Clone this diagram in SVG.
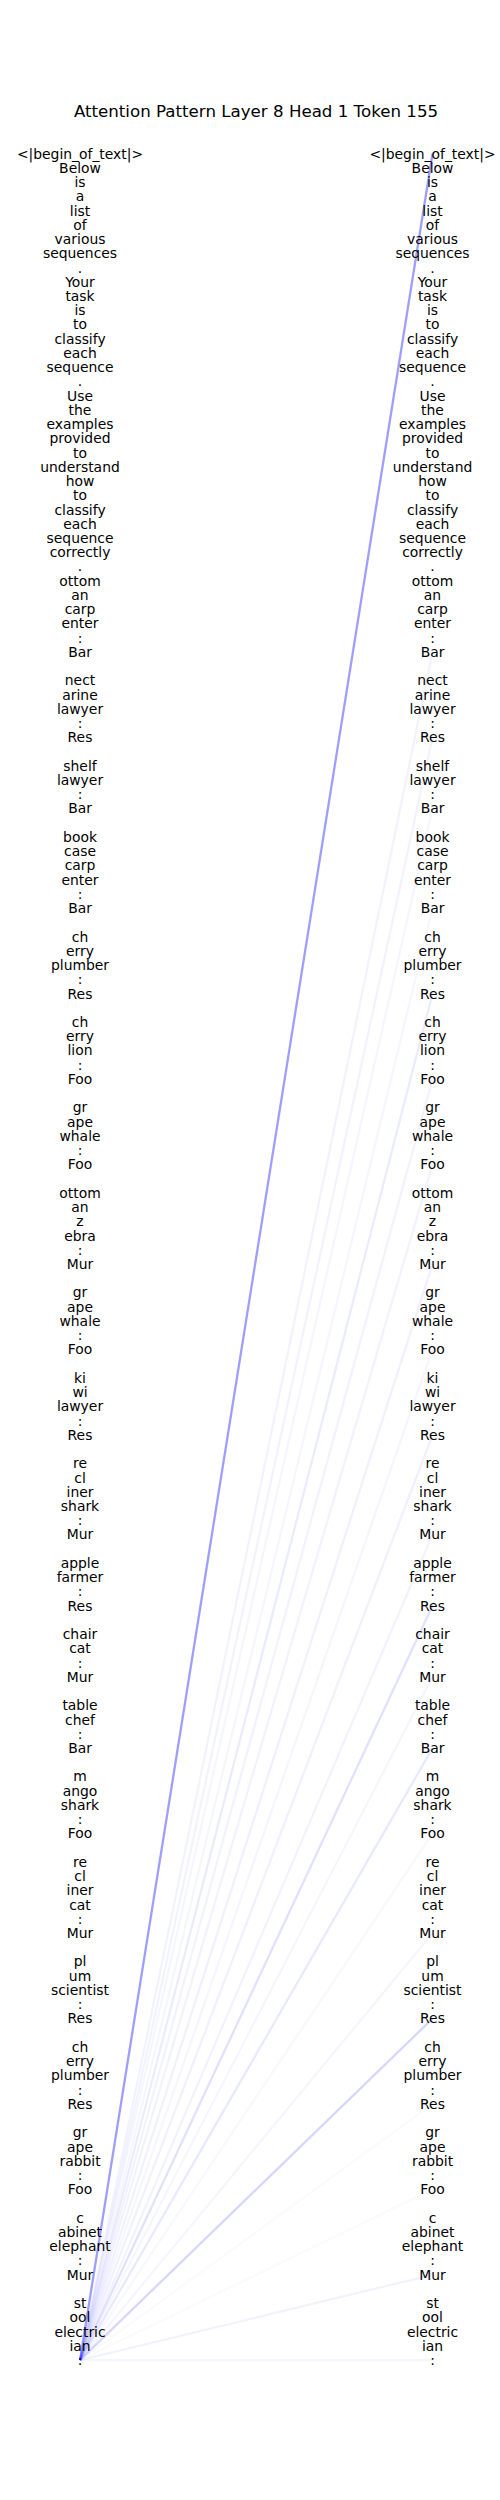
<svg xmlns="http://www.w3.org/2000/svg" width="500" height="2500" viewBox="0 0 500 2500">
<style>
text{font-family:"DejaVu Sans","Liberation Sans",sans-serif;fill:#000;text-anchor:middle}
.t{font-size:13.9px}
.title{font-size:16.67px}
.c line{stroke:#0000ff;stroke-width:2.3;stroke-linecap:butt}
</style>
<rect width="500" height="2500" fill="#fff"/>
<text class="title" x="256" y="116.7">Attention Pattern Layer 8 Head 1 Token 155</text>
<g id="connectors" class="c">
<line x1="80" y1="2360.2" x2="432.5" y2="652.0" stroke-opacity="0.05"/>
<line x1="80" y1="2360.2" x2="432.5" y2="737.4" stroke-opacity="0.05"/>
<line x1="80" y1="2360.2" x2="432.5" y2="808.6" stroke-opacity="0.04"/>
<line x1="80" y1="2360.2" x2="432.5" y2="908.3" stroke-opacity="0.04"/>
<line x1="80" y1="2360.2" x2="432.5" y2="993.7" stroke-opacity="0.08"/>
<line x1="80" y1="2360.2" x2="432.5" y2="1079.1" stroke-opacity="0.05"/>
<line x1="80" y1="2360.2" x2="432.5" y2="1164.5" stroke-opacity="0.05"/>
<line x1="80" y1="2360.2" x2="432.5" y2="1264.1" stroke-opacity="0.06"/>
<line x1="80" y1="2360.2" x2="432.5" y2="1349.5" stroke-opacity="0.04"/>
<line x1="80" y1="2360.2" x2="432.5" y2="1435.0" stroke-opacity="0.06"/>
<line x1="80" y1="2360.2" x2="432.5" y2="1534.6" stroke-opacity="0.05"/>
<line x1="80" y1="2360.2" x2="432.5" y2="1605.8" stroke-opacity="0.12"/>
<line x1="80" y1="2360.2" x2="432.5" y2="1676.9" stroke-opacity="0.04"/>
<line x1="80" y1="2360.2" x2="432.5" y2="1748.1" stroke-opacity="0.09"/>
<line x1="80" y1="2360.2" x2="432.5" y2="1833.5" stroke-opacity="0.03"/>
<line x1="80" y1="2360.2" x2="432.5" y2="1933.2" stroke-opacity="0.04"/>
<line x1="80" y1="2360.2" x2="432.5" y2="2018.6" stroke-opacity="0.16"/>
<line x1="80" y1="2360.2" x2="432.5" y2="2104.0" stroke-opacity="0.02"/>
<line x1="80" y1="2360.2" x2="432.5" y2="2189.4" stroke-opacity="0.02"/>
<line x1="80" y1="2360.2" x2="432.5" y2="2274.8" stroke-opacity="0.05"/>
<line x1="80" y1="2360.2" x2="432.5" y2="2360.2" stroke-opacity="0.04"/>
<line x1="80" y1="2360.2" x2="432.5" y2="153.8" stroke-opacity="0.38"/>
</g>
<g id="left" class="t" transform="translate(80,0)">
<g id="L0"><text y="158.6">&lt;|begin_of_text|&gt;</text></g>
<g id="L1"><text y="172.8">Below</text></g>
<g id="L2"><text y="187.1">is</text></g>
<g id="L3"><text y="201.3">a</text></g>
<g id="L4"><text y="215.5">list</text></g>
<g id="L5"><text y="229.8">of</text></g>
<g id="L6"><text y="244.0">various</text></g>
<g id="L7"><text y="258.2">sequences</text></g>
<g id="L8"><text y="272.5">.</text></g>
<g id="L9"><text y="286.7">Your</text></g>
<g id="L10"><text y="300.9">task</text></g>
<g id="L11"><text y="315.2">is</text></g>
<g id="L12"><text y="329.4">to</text></g>
<g id="L13"><text y="343.7">classify</text></g>
<g id="L14"><text y="357.9">each</text></g>
<g id="L15"><text y="372.1">sequence</text></g>
<g id="L16"><text y="386.4">.</text></g>
<g id="L17"><text y="400.6">Use</text></g>
<g id="L18"><text y="414.8">the</text></g>
<g id="L19"><text y="429.1">examples</text></g>
<g id="L20"><text y="443.3">provided</text></g>
<g id="L21"><text y="457.5">to</text></g>
<g id="L22"><text y="471.8">understand</text></g>
<g id="L23"><text y="486.0">how</text></g>
<g id="L24"><text y="500.2">to</text></g>
<g id="L25"><text y="514.5">classify</text></g>
<g id="L26"><text y="528.7">each</text></g>
<g id="L27"><text y="542.9">sequence</text></g>
<g id="L28"><text y="557.2">correctly</text></g>
<g id="L29"><text y="571.4">.</text></g>
<g id="L30"><text y="585.6">ottom</text></g>
<g id="L31"><text y="599.9">an</text></g>
<g id="L32"><text y="614.1">carp</text></g>
<g id="L33"><text y="628.4">enter</text></g>
<g id="L34"><text y="642.6">:</text></g>
<g id="L35"><text y="656.8">Bar</text></g>
<g id="L37"><text y="685.3">nect</text></g>
<g id="L38"><text y="699.5">arine</text></g>
<g id="L39"><text y="713.8">lawyer</text></g>
<g id="L40"><text y="728.0">:</text></g>
<g id="L41"><text y="742.2">Res</text></g>
<g id="L43"><text y="770.7">shelf</text></g>
<g id="L44"><text y="784.9">lawyer</text></g>
<g id="L45"><text y="799.2">:</text></g>
<g id="L46"><text y="813.4">Bar</text></g>
<g id="L48"><text y="841.9">book</text></g>
<g id="L49"><text y="856.1">case</text></g>
<g id="L50"><text y="870.4">carp</text></g>
<g id="L51"><text y="884.6">enter</text></g>
<g id="L52"><text y="898.8">:</text></g>
<g id="L53"><text y="913.1">Bar</text></g>
<g id="L55"><text y="941.5">ch</text></g>
<g id="L56"><text y="955.8">erry</text></g>
<g id="L57"><text y="970.0">plumber</text></g>
<g id="L58"><text y="984.2">:</text></g>
<g id="L59"><text y="998.5">Res</text></g>
<g id="L61"><text y="1026.9">ch</text></g>
<g id="L62"><text y="1041.2">erry</text></g>
<g id="L63"><text y="1055.4">lion</text></g>
<g id="L64"><text y="1069.6">:</text></g>
<g id="L65"><text y="1083.9">Foo</text></g>
<g id="L67"><text y="1112.3">gr</text></g>
<g id="L68"><text y="1126.6">ape</text></g>
<g id="L69"><text y="1140.8">whale</text></g>
<g id="L70"><text y="1155.1">:</text></g>
<g id="L71"><text y="1169.3">Foo</text></g>
<g id="L73"><text y="1197.8">ottom</text></g>
<g id="L74"><text y="1212.0">an</text></g>
<g id="L75"><text y="1226.2">z</text></g>
<g id="L76"><text y="1240.5">ebra</text></g>
<g id="L77"><text y="1254.7">:</text></g>
<g id="L78"><text y="1268.9">Mur</text></g>
<g id="L80"><text y="1297.4">gr</text></g>
<g id="L81"><text y="1311.6">ape</text></g>
<g id="L82"><text y="1325.9">whale</text></g>
<g id="L83"><text y="1340.1">:</text></g>
<g id="L84"><text y="1354.3">Foo</text></g>
<g id="L86"><text y="1382.8">ki</text></g>
<g id="L87"><text y="1397.0">wi</text></g>
<g id="L88"><text y="1411.3">lawyer</text></g>
<g id="L89"><text y="1425.5">:</text></g>
<g id="L90"><text y="1439.8">Res</text></g>
<g id="L92"><text y="1468.2">re</text></g>
<g id="L93"><text y="1482.5">cl</text></g>
<g id="L94"><text y="1496.7">iner</text></g>
<g id="L95"><text y="1510.9">shark</text></g>
<g id="L96"><text y="1525.2">:</text></g>
<g id="L97"><text y="1539.4">Mur</text></g>
<g id="L99"><text y="1567.9">apple</text></g>
<g id="L100"><text y="1582.1">farmer</text></g>
<g id="L101"><text y="1596.3">:</text></g>
<g id="L102"><text y="1610.6">Res</text></g>
<g id="L104"><text y="1639.0">chair</text></g>
<g id="L105"><text y="1653.3">cat</text></g>
<g id="L106"><text y="1667.5">:</text></g>
<g id="L107"><text y="1681.7">Mur</text></g>
<g id="L109"><text y="1710.2">table</text></g>
<g id="L110"><text y="1724.5">chef</text></g>
<g id="L111"><text y="1738.7">:</text></g>
<g id="L112"><text y="1752.9">Bar</text></g>
<g id="L114"><text y="1781.4">m</text></g>
<g id="L115"><text y="1795.6">ango</text></g>
<g id="L116"><text y="1809.9">shark</text></g>
<g id="L117"><text y="1824.1">:</text></g>
<g id="L118"><text y="1838.3">Foo</text></g>
<g id="L120"><text y="1866.8">re</text></g>
<g id="L121"><text y="1881.0">cl</text></g>
<g id="L122"><text y="1895.3">iner</text></g>
<g id="L123"><text y="1909.5">cat</text></g>
<g id="L124"><text y="1923.7">:</text></g>
<g id="L125"><text y="1938.0">Mur</text></g>
<g id="L127"><text y="1966.4">pl</text></g>
<g id="L128"><text y="1980.7">um</text></g>
<g id="L129"><text y="1994.9">scientist</text></g>
<g id="L130"><text y="2009.2">:</text></g>
<g id="L131"><text y="2023.4">Res</text></g>
<g id="L133"><text y="2051.9">ch</text></g>
<g id="L134"><text y="2066.1">erry</text></g>
<g id="L135"><text y="2080.3">plumber</text></g>
<g id="L136"><text y="2094.6">:</text></g>
<g id="L137"><text y="2108.8">Res</text></g>
<g id="L139"><text y="2137.3">gr</text></g>
<g id="L140"><text y="2151.5">ape</text></g>
<g id="L141"><text y="2165.7">rabbit</text></g>
<g id="L142"><text y="2180.0">:</text></g>
<g id="L143"><text y="2194.2">Foo</text></g>
<g id="L145"><text y="2222.7">c</text></g>
<g id="L146"><text y="2236.9">abinet</text></g>
<g id="L147"><text y="2251.1">elephant</text></g>
<g id="L148"><text y="2265.4">:</text></g>
<g id="L149"><text y="2279.6">Mur</text></g>
<g id="L151"><text y="2308.1">st</text></g>
<g id="L152"><text y="2322.3">ool</text></g>
<g id="L153"><text y="2336.6">electric</text></g>
<g id="L154"><text y="2350.8">ian</text></g>
<g id="L155"><text y="2365.0">:</text></g>
</g>
<g id="right" class="t" transform="translate(432.5,0)">
<g id="R0"><text y="158.6">&lt;|begin_of_text|&gt;</text></g>
<g id="R1"><text y="172.8">Below</text></g>
<g id="R2"><text y="187.1">is</text></g>
<g id="R3"><text y="201.3">a</text></g>
<g id="R4"><text y="215.5">list</text></g>
<g id="R5"><text y="229.8">of</text></g>
<g id="R6"><text y="244.0">various</text></g>
<g id="R7"><text y="258.2">sequences</text></g>
<g id="R8"><text y="272.5">.</text></g>
<g id="R9"><text y="286.7">Your</text></g>
<g id="R10"><text y="300.9">task</text></g>
<g id="R11"><text y="315.2">is</text></g>
<g id="R12"><text y="329.4">to</text></g>
<g id="R13"><text y="343.7">classify</text></g>
<g id="R14"><text y="357.9">each</text></g>
<g id="R15"><text y="372.1">sequence</text></g>
<g id="R16"><text y="386.4">.</text></g>
<g id="R17"><text y="400.6">Use</text></g>
<g id="R18"><text y="414.8">the</text></g>
<g id="R19"><text y="429.1">examples</text></g>
<g id="R20"><text y="443.3">provided</text></g>
<g id="R21"><text y="457.5">to</text></g>
<g id="R22"><text y="471.8">understand</text></g>
<g id="R23"><text y="486.0">how</text></g>
<g id="R24"><text y="500.2">to</text></g>
<g id="R25"><text y="514.5">classify</text></g>
<g id="R26"><text y="528.7">each</text></g>
<g id="R27"><text y="542.9">sequence</text></g>
<g id="R28"><text y="557.2">correctly</text></g>
<g id="R29"><text y="571.4">.</text></g>
<g id="R30"><text y="585.6">ottom</text></g>
<g id="R31"><text y="599.9">an</text></g>
<g id="R32"><text y="614.1">carp</text></g>
<g id="R33"><text y="628.4">enter</text></g>
<g id="R34"><text y="642.6">:</text></g>
<g id="R35"><text y="656.8">Bar</text></g>
<g id="R37"><text y="685.3">nect</text></g>
<g id="R38"><text y="699.5">arine</text></g>
<g id="R39"><text y="713.8">lawyer</text></g>
<g id="R40"><text y="728.0">:</text></g>
<g id="R41"><text y="742.2">Res</text></g>
<g id="R43"><text y="770.7">shelf</text></g>
<g id="R44"><text y="784.9">lawyer</text></g>
<g id="R45"><text y="799.2">:</text></g>
<g id="R46"><text y="813.4">Bar</text></g>
<g id="R48"><text y="841.9">book</text></g>
<g id="R49"><text y="856.1">case</text></g>
<g id="R50"><text y="870.4">carp</text></g>
<g id="R51"><text y="884.6">enter</text></g>
<g id="R52"><text y="898.8">:</text></g>
<g id="R53"><text y="913.1">Bar</text></g>
<g id="R55"><text y="941.5">ch</text></g>
<g id="R56"><text y="955.8">erry</text></g>
<g id="R57"><text y="970.0">plumber</text></g>
<g id="R58"><text y="984.2">:</text></g>
<g id="R59"><text y="998.5">Res</text></g>
<g id="R61"><text y="1026.9">ch</text></g>
<g id="R62"><text y="1041.2">erry</text></g>
<g id="R63"><text y="1055.4">lion</text></g>
<g id="R64"><text y="1069.6">:</text></g>
<g id="R65"><text y="1083.9">Foo</text></g>
<g id="R67"><text y="1112.3">gr</text></g>
<g id="R68"><text y="1126.6">ape</text></g>
<g id="R69"><text y="1140.8">whale</text></g>
<g id="R70"><text y="1155.1">:</text></g>
<g id="R71"><text y="1169.3">Foo</text></g>
<g id="R73"><text y="1197.8">ottom</text></g>
<g id="R74"><text y="1212.0">an</text></g>
<g id="R75"><text y="1226.2">z</text></g>
<g id="R76"><text y="1240.5">ebra</text></g>
<g id="R77"><text y="1254.7">:</text></g>
<g id="R78"><text y="1268.9">Mur</text></g>
<g id="R80"><text y="1297.4">gr</text></g>
<g id="R81"><text y="1311.6">ape</text></g>
<g id="R82"><text y="1325.9">whale</text></g>
<g id="R83"><text y="1340.1">:</text></g>
<g id="R84"><text y="1354.3">Foo</text></g>
<g id="R86"><text y="1382.8">ki</text></g>
<g id="R87"><text y="1397.0">wi</text></g>
<g id="R88"><text y="1411.3">lawyer</text></g>
<g id="R89"><text y="1425.5">:</text></g>
<g id="R90"><text y="1439.8">Res</text></g>
<g id="R92"><text y="1468.2">re</text></g>
<g id="R93"><text y="1482.5">cl</text></g>
<g id="R94"><text y="1496.7">iner</text></g>
<g id="R95"><text y="1510.9">shark</text></g>
<g id="R96"><text y="1525.2">:</text></g>
<g id="R97"><text y="1539.4">Mur</text></g>
<g id="R99"><text y="1567.9">apple</text></g>
<g id="R100"><text y="1582.1">farmer</text></g>
<g id="R101"><text y="1596.3">:</text></g>
<g id="R102"><text y="1610.6">Res</text></g>
<g id="R104"><text y="1639.0">chair</text></g>
<g id="R105"><text y="1653.3">cat</text></g>
<g id="R106"><text y="1667.5">:</text></g>
<g id="R107"><text y="1681.7">Mur</text></g>
<g id="R109"><text y="1710.2">table</text></g>
<g id="R110"><text y="1724.5">chef</text></g>
<g id="R111"><text y="1738.7">:</text></g>
<g id="R112"><text y="1752.9">Bar</text></g>
<g id="R114"><text y="1781.4">m</text></g>
<g id="R115"><text y="1795.6">ango</text></g>
<g id="R116"><text y="1809.9">shark</text></g>
<g id="R117"><text y="1824.1">:</text></g>
<g id="R118"><text y="1838.3">Foo</text></g>
<g id="R120"><text y="1866.8">re</text></g>
<g id="R121"><text y="1881.0">cl</text></g>
<g id="R122"><text y="1895.3">iner</text></g>
<g id="R123"><text y="1909.5">cat</text></g>
<g id="R124"><text y="1923.7">:</text></g>
<g id="R125"><text y="1938.0">Mur</text></g>
<g id="R127"><text y="1966.4">pl</text></g>
<g id="R128"><text y="1980.7">um</text></g>
<g id="R129"><text y="1994.9">scientist</text></g>
<g id="R130"><text y="2009.2">:</text></g>
<g id="R131"><text y="2023.4">Res</text></g>
<g id="R133"><text y="2051.9">ch</text></g>
<g id="R134"><text y="2066.1">erry</text></g>
<g id="R135"><text y="2080.3">plumber</text></g>
<g id="R136"><text y="2094.6">:</text></g>
<g id="R137"><text y="2108.8">Res</text></g>
<g id="R139"><text y="2137.3">gr</text></g>
<g id="R140"><text y="2151.5">ape</text></g>
<g id="R141"><text y="2165.7">rabbit</text></g>
<g id="R142"><text y="2180.0">:</text></g>
<g id="R143"><text y="2194.2">Foo</text></g>
<g id="R145"><text y="2222.7">c</text></g>
<g id="R146"><text y="2236.9">abinet</text></g>
<g id="R147"><text y="2251.1">elephant</text></g>
<g id="R148"><text y="2265.4">:</text></g>
<g id="R149"><text y="2279.6">Mur</text></g>
<g id="R151"><text y="2308.1">st</text></g>
<g id="R152"><text y="2322.3">ool</text></g>
<g id="R153"><text y="2336.6">electric</text></g>
<g id="R154"><text y="2350.8">ian</text></g>
<g id="R155"><text y="2365.0">:</text></g>
</g>
</svg>
